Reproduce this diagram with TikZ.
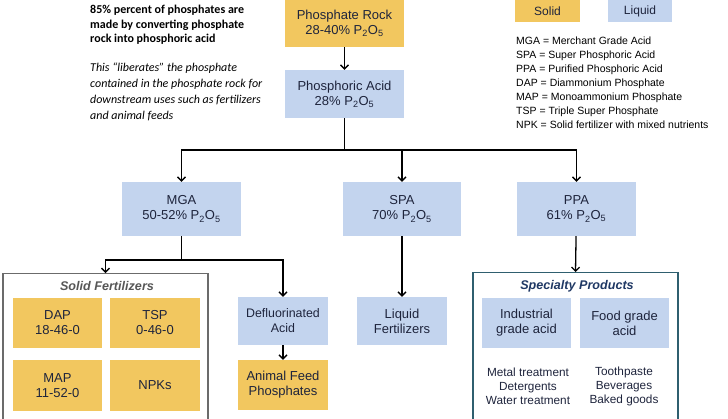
\documentclass[tikz,border=0pt]{standalone}
\usepackage{fontspec}
\setmainfont{Liberation Sans}
\newfontfamily\notefont{Carlito}
\usepackage{xcolor}
\usetikzlibrary{arrows.meta, positioning, calc}
\definecolor{rockyellow}{HTML}{F2C75F}
\definecolor{acidblue}{HTML}{C3D4EE}
\definecolor{inktext}{HTML}{1E243C}
\definecolor{solidgray}{HTML}{6B6B6B}
\definecolor{specteal}{HTML}{2F5F6F}
\definecolor{spectitle}{HTML}{1F3864}
\tikzset{
  solidbox/.style={
    rectangle, fill=rockyellow, text=inktext,
    align=center, inner sep=2pt,
    font=\fontsize{13}{15}\selectfont
  },
  liquidbox/.style={
    solidbox, fill=acidblue
  },
  grpbox/.style={
    rectangle, line width=1.1pt, fill=none
  },
  arr/.style={
    -{Straight Barb[length=4pt,width=8pt]},
    black, line width=1.3pt
  },
  conn/.style={black, line width=1.3pt},
}
\newcommand{\ptwo}{P\textsubscript{2}O\textsubscript{5}}

\begin{document}
\begin{tikzpicture}[x=1pt,y=-1pt]
  \useasboundingbox (0,0) rectangle (728,418);
  % groups
  \node[grpbox, draw=solidgray, minimum width=205pt, minimum height=170pt,
        anchor=north] (solid) at (105.5,273) {};
  \node[grpbox, draw=specteal, minimum width=205pt, minimum height=170pt,
        anchor=north] (spec) at (575.5,272) {};
  \node[font=\fontsize{12.6}{14}\selectfont\bfseries\itshape, text=solidgray!80!black]
    (solidttl) at (107,286) {Solid Fertilizers};
  \node[font=\fontsize{12.6}{14}\selectfont\bfseries\itshape, text=spectitle]
    (specttl) at (577,286) {Specialty Products};
  % main chain
  \node[solidbox, minimum width=119pt, minimum height=47pt] (rock) at (344.5,23.5)
    {Phosphate Rock\\28-40\% \ptwo};
  \node[liquidbox, minimum width=119pt, minimum height=48pt] (acid) at (344.5,94)
    {Phosphoric Acid\\28\% \ptwo};
  \node[liquidbox, minimum width=119pt, minimum height=54pt] (mga) at (181.5,209)
    {MGA\\50-52\% \ptwo};
  \node[liquidbox, minimum width=118pt, minimum height=54pt] (spa) at (402,209)
    {SPA\\70\% \ptwo};
  \node[liquidbox, minimum width=119pt, minimum height=54pt] (ppa) at (576.5,209)
    {PPA\\61\% \ptwo};
  % solid fertilizers
  \node[solidbox, minimum width=89pt, minimum height=50pt] (dap) at (57.5,323)
    {DAP\\18-46-0};
  \node[solidbox, minimum width=90pt, minimum height=50pt] (tsp) at (155,323)
    {TSP\\0-46-0};
  \node[solidbox, minimum width=89pt, minimum height=51pt] (map) at (57.5,385.5)
    {MAP\\11-52-0};
  \node[solidbox, minimum width=90pt, minimum height=51pt] (npk) at (155,385.5)
    {NPKs};
  % middle column
  \node[liquidbox, minimum width=90pt, minimum height=48pt,
        font=\fontsize{12.4}{15}\selectfont] (defl) at (283,321)
    {Defluorinated\\Acid};
  \node[solidbox, minimum width=90pt, minimum height=50pt] (feed) at (283,385)
    {Animal Feed\\Phosphates};
  \node[liquidbox, minimum width=90pt, minimum height=48pt] (liq) at (402,321)
    {Liquid\\Fertilizers};
  % specialty
  \node[liquidbox, minimum width=89pt, minimum height=50pt] (ind) at (526.5,323)
    {Industrial\\grade acid};
  \node[liquidbox, minimum width=89pt, minimum height=50pt] (food) at (624.5,323)
    {Food grade\\acid};
  \node[align=center, text=inktext, font=\fontsize{11.8}{14}\selectfont] (induse) at (528,386)
    {Metal treatment\\Detergents\\Water treatment};
  \node[align=center, text=inktext, font=\fontsize{11.8}{14}\selectfont] (fooduse) at (624,386)
    {Toothpaste\\Beverages\\Baked goods};
  % legend
  \node[solidbox, minimum width=65pt, minimum height=22pt, font=\fontsize{12}{14}\selectfont]
    (legsolid) at (547.5,11) {Solid};
  \node[liquidbox, minimum width=64pt, minimum height=22pt, font=\fontsize{12}{14}\selectfont]
    (legliquid) at (640,11) {Liquid};
  \node[anchor=north west, align=left, inner sep=0pt,
        font=\fontsize{10.5}{14}\selectfont] (abbr) at (516,36.5)
    {MGA = Merchant Grade Acid\\
     SPA = Super Phosphoric Acid\\
     PPA = Purified Phosphoric Acid\\
     DAP = Diammonium Phosphate\\
     MAP = Monoammonium Phosphate\\
     TSP = Triple Super Phosphate\\
     NPK = Solid fertilizer with mixed nutrients};
  % note
  \node[anchor=north west, align=left, inner sep=0pt,
        font=\notefont\fontsize{12}{14.5}\selectfont\bfseries] (note) at (90,5)
    {85\% percent of phosphates are\\
     made by converting phosphate\\
     rock into phosphoric acid};
  \node[anchor=north west, align=left, inner sep=0pt,
        font=\notefont\fontsize{12}{16}\selectfont\itshape] (notetwo) at (90,63)
    {This “liberates” the phosphate\\
     contained in the phosphate rock for\\
     downstream uses such as fertilizers\\
     and animal feeds};
  % connectors
  \coordinate (split) at (344.5,150);
  \coordinate (fork) at (181.5,260);
  \draw[arr] (rock) -- (acid);
  \draw[conn] (acid) -- (split);
  \draw[arr] (split) -| (mga);
  \draw[arr] (split) -| (spa);
  \draw[arr] (split) -| (ppa);
  \draw[conn] (mga) -- (fork);
  \draw[arr] (fork) -| (solid.north);
  \draw[arr] (fork) -| (defl);
  \draw[arr] (defl) -- (feed);
  \draw[arr] (spa) -- (liq);
  \draw[arr] (ppa) -- (spec.north);
\end{tikzpicture}
\end{document}
